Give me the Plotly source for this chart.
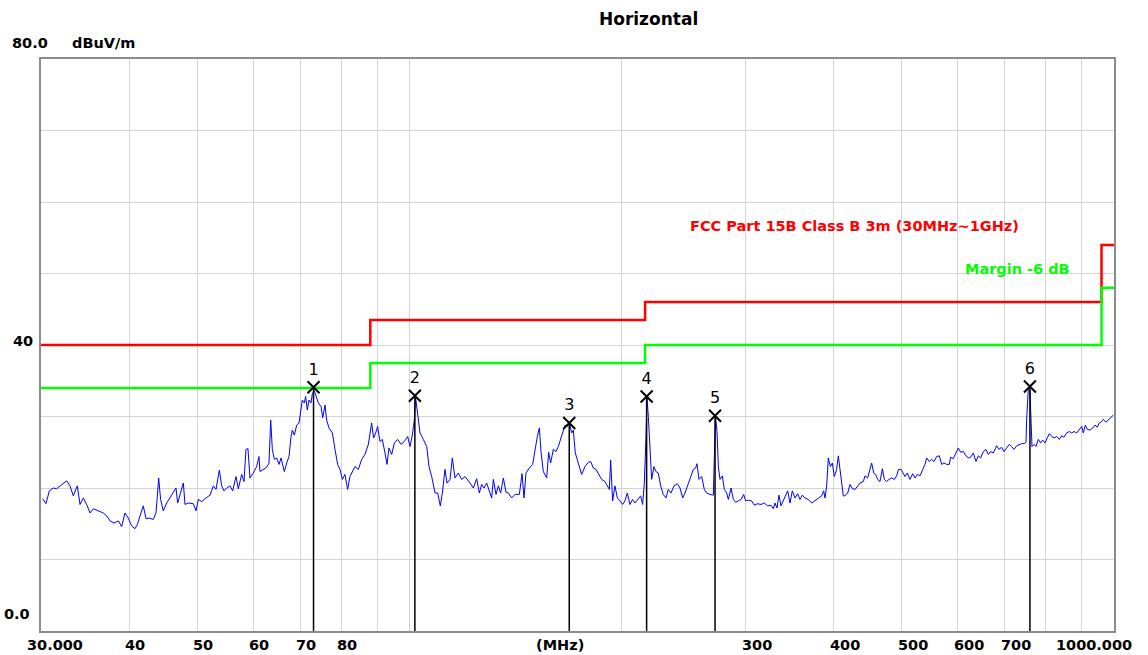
"""EMI scan plot, horizontal polarisation, 30 MHz - 1 GHz."""

import math

import plotly.graph_objects as go

# measured trace (MHz, dBuV/m)
scan_freq = [
    30.16, 30.49, 30.83, 31.23, 31.57, 31.92, 32.27, 32.62, 32.98, 33.34, 33.78, 34.08,
    34.45, 34.90, 35.21, 35.59, 36.18, 36.78, 37.18, 37.59, 38.08, 38.63, 39.05, 39.47,
    39.90, 40.34, 40.79, 41.10, 41.46, 41.91, 42.28, 42.74, 43.30, 43.68, 43.88, 44.07,
    44.35, 44.74, 45.24, 45.73, 46.23, 46.63, 46.89, 47.25, 47.77, 48.03, 48.55, 49.36,
    49.79, 50.17, 50.72, 51.27, 52.12, 52.69, 53.15, 53.73, 54.14, 54.56, 55.03, 55.63,
    56.12, 56.74, 57.17, 57.80, 58.24, 58.62, 59.00, 59.39, 60.04, 60.70, 61.16,
    61.37, 62.03, 62.72, 63.20, 63.55, 63.89, 64.32, 64.81, 65.30, 65.73, 66.44, 66.97,
    67.47, 67.91, 68.21, 68.65, 69.19, 69.72, 70.17, 70.47, 70.93, 71.24, 71.63, 72.03,
    72.50, 72.82, 73.29, 73.69, 74.26, 74.91, 75.32, 75.90, 76.30, 76.88, 77.74, 78.42,
    79.09, 79.71, 80.32, 81.00, 81.72, 82.34, 82.99, 83.70, 84.63, 85.55, 86.48, 87.44,
    88.39, 88.96, 89.56, 90.14, 90.83, 91.52, 92.33, 92.94, 93.54, 94.37, 95.20, 96.23,
    97.28, 98.36, 99.43, 100.19, 100.95, 101.61, 102.05, 102.74, 103.52, 104.65, 105.81,
    106.62, 107.55, 108.72, 109.68, 110.62, 111.36, 112.34, 113.06, 114.19, 115.06,
    116.07, 117.33, 118.61, 119.93, 121.91, 123.23,
    124.58, 125.67, 126.63, 127.60, 128.72, 129.85, 130.84, 131.56, 132.72, 133.73,
    134.75, 135.94, 137.10, 138.17, 139.68, 141.20, 143.23, 144.49, 145.43, 146.37,
    147.99, 149.60, 150.74, 151.89, 152.91, 153.72, 154.90, 156.62, 157.63, 158.65,
    160.04, 161.45, 162.68, 163.92, 165.02, 166.28, 167.54, 168.63, 169.91, 170.85,
    171.96, 173.67, 175.56, 177.51, 179.45, 180.81, 182.40, 184.00, 185.62, 187.43,
    189.51, 190.96, 192.19, 193.03, 194.28, 195.76, 197.30, 198.98, 200.73, 202.26,
    203.81, 205.59, 207.40, 208.98, 211.31, 212.92, 214.29, 215.48, 216.62, 217.37,
    218.32, 219.48, 220.70, 222.39, 223.82, 225.53, 227.31, 229.25, 231.27, 233.03,
    235.09, 237.43, 240.01, 242.12, 244.25, 246.11, 248.79,
    250.97, 252.89, 254.82, 255.94, 257.65, 259.92, 262.15, 264.15, 267.09, 270.00,
    270.86, 272.05, 273.25, 274.44, 275.96, 278.07, 279.87, 282.00, 283.57, 286.06,
    288.24, 290.44, 292.99, 295.55, 298.14, 300.07, 302.71, 306.00, 308.69, 312.07,
    315.52, 318.95, 322.44, 325.93, 328.49, 330.24, 332.45, 334.61, 336.78, 339.35,
    341.22, 344.22, 346.86, 349.51, 352.58, 355.67, 358.40, 361.13, 364.31, 368.27,
    372.35, 376.40, 380.51, 384.70, 387.19, 388.88, 391.04, 393.12, 395.75, 398.32,
    400.90, 403.96, 406.19, 408.43, 410.60, 412.88, 415.17, 418.82, 422.01, 425.24,
    428.99, 432.75, 436.06, 440.80, 443.24, 447.03, 450.45, 452.95, 455.98, 458.93,
    461.90, 465.43, 469.08, 472.11, 475.72, 479.36, 483.58, 487.83, 491.55, 494.29,
    498.62, 502.42,
    505.1, 508.9, 513.4, 518.0, 521.9, 525.9, 530.5, 535.2, 539.2, 542.2, 546.9, 551.1,
    555.3, 560.2, 565.1, 569.4, 573.7, 578.8, 583.7, 586.3, 591.4, 596.6, 601.2, 605.8,
    611.1, 616.5, 621.2, 625.9, 631.4, 637.0, 641.8, 646.7, 652.4, 658.1, 663.1, 668.2,
    674.1, 681.4, 686.6, 692.6, 697.9, 704.0, 710.2, 715.6, 721.1, 727.4, 733.8, 739.4,
    745.9, 750.1, 751.6, 755.8, 759.8, 762.3, 764.9, 769.9, 774.9, 780.8, 786.9, 792.0,
    798.0, 804.1, 809.5, 815.7, 821.9, 829.1, 836.4, 842.8, 849.2, 856.7, 864.2, 870.8,
    877.5, 885.2, 893.0, 899.8, 904.5, 910.6, 916.5, 924.5, 932.7, 939.8, 947.0, 953.1,
    960.4, 965.7, 974.2, 981.6, 989.1, 997.8,
]
scan_level = [
    18.5, 17.8, 19.6, 20.0, 19.9, 20.3, 20.7, 21.0, 20.3, 18.9, 20.3, 17.7,
    18.6, 17.5, 16.5, 17.1, 16.8, 16.5, 16.1, 15.4, 15.1, 15.4, 14.6, 16.5,
    15.8, 14.7, 14.3, 14.9, 16.1, 17.5, 15.7, 15.8, 15.6, 16.5, 18.9, 21.4,
    18.4, 16.8, 17.9, 18.6, 19.3, 20.0, 17.9, 19.1, 20.7, 17.7, 17.9, 17.8,
    16.8, 18.4, 18.1, 18.5, 19.0, 20.3, 19.8, 22.5, 20.3, 19.6, 20.0, 20.3,
    19.6, 21.6, 19.9, 21.9, 20.9, 25.4, 25.5, 21.4, 22.1, 23.0, 24.4,
    22.3, 22.6, 22.9, 23.5, 29.5, 25.4, 24.0, 24.2, 23.3, 24.2, 22.3, 23.5,
    24.4, 27.2, 28.1, 27.4, 28.8, 29.1, 30.7, 32.3, 31.9, 32.8, 30.9, 32.3,
    31.9, 33.2, 33.6, 33.0, 31.9, 31.4, 29.8, 31.6, 29.5, 28.4, 27.7, 25.4,
    23.3, 22.6, 21.2, 21.9, 19.8, 21.6, 22.3, 23.0, 22.6, 24.0, 24.7, 26.1,
    29.1, 27.0, 27.7, 28.6, 26.5, 26.8, 24.9, 23.3, 25.6, 24.7, 26.3, 26.8,
    26.1, 26.5, 27.2, 25.8, 27.4, 29.5, 32.6, 30.0, 27.7, 26.8, 25.8,
    23.0, 21.6, 19.3, 19.3, 17.5, 19.3, 22.6, 20.7, 21.2, 24.2,
    21.4, 22.1, 21.2, 21.6, 20.7, 20.0,
    21.3, 19.3, 20.5, 20.0, 20.7, 19.6, 18.6, 21.2, 19.1, 20.3,
    19.3, 21.4, 19.4, 19.3, 18.6, 19.1, 19.1, 22.0, 18.6, 22.1,
    22.8, 23.3, 25.6, 27.2, 28.4, 25.1, 22.3, 21.4, 25.0, 23.5,
    25.4, 25.1, 25.8, 26.8, 27.9, 28.8, 28.6, 29.2, 27.7, 28.1,
    24.9, 23.3, 21.9, 23.0, 23.6, 23.7, 22.8, 22.6, 21.9, 21.2,
    20.9, 20.3, 19.8, 23.9, 18.2, 20.3, 18.6, 18.2, 17.7, 18.2,
    19.3, 17.7, 18.4, 17.9, 18.6, 18.9, 17.7, 20.7, 27.0, 32.6,
    30.0, 25.6, 21.2, 23.0, 22.3, 22.1, 20.3, 19.1, 18.6, 19.8,
    19.3, 20.3, 20.6, 20.0, 18.6, 19.3, 20.5,
    21.6, 22.6, 22.8, 23.4, 21.2, 21.6, 19.8, 19.3, 19.1, 19.0,
    24.4, 29.8, 27.9, 23.0, 21.2, 21.7, 19.8, 19.3, 18.4, 20.0,
    18.4, 18.0, 18.2, 18.4, 19.1, 18.2, 18.3, 18.2, 17.6, 17.8,
    17.7, 17.9, 17.5, 17.6, 17.1, 17.9, 17.2, 19.0, 17.5, 18.2,
    18.9, 19.6, 17.9, 19.6, 18.6, 19.2, 18.4, 19.0, 18.6, 18.4,
    17.9, 18.2, 18.6, 18.9, 19.6, 18.6, 20.3, 24.2, 23.0, 23.5,
    21.6, 22.6, 24.5, 22.8, 21.2, 18.9, 18.9, 19.3, 20.5, 19.9,
    19.8, 20.3, 20.7, 20.9, 21.7, 21.4, 22.6, 23.5, 22.1, 21.9,
    21.2, 20.9, 22.7, 21.2, 20.9, 21.2, 21.4, 21.2, 21.7, 22.6,
    22.6, 22.1,
    21.6, 22.1, 21.2, 22.0, 21.4, 21.9, 21.7, 22.6, 23.3, 24.2, 23.7, 24.0,
    23.7, 24.4, 24.5, 23.3, 23.5, 23.3, 23.3, 24.3, 24.1, 24.9, 25.6, 25.0,
    25.1, 24.5, 24.2, 24.3, 24.9, 23.7, 24.5, 24.2, 25.1, 25.4, 24.7, 25.1,
    24.9, 25.9, 25.4, 25.7, 25.1, 25.6, 26.1, 25.8, 25.4, 25.9, 26.1, 26.2,
    26.2, 26.4, 29.5, 33.9, 33.7, 29.5, 25.8, 26.1, 25.8, 26.8, 26.3, 26.7,
    26.3, 27.0, 27.6, 27.2, 27.0, 27.2, 26.8, 27.3, 27.1, 27.7, 27.9, 27.7,
    27.9, 27.7, 28.2, 28.6, 27.7, 28.8, 28.2, 28.1, 28.4, 28.8, 28.5, 29.1,
    29.3, 29.6, 29.2, 29.5, 29.8, 30.2,
]

# FCC Part 15B class B limit and the -6 dB margin line
limit_freq = [30, 88, 216, 960, 1000]
limit_level = [40.0, 43.5, 46.0, 54.0, 54.0]
margin_level = [34.0, 37.5, 40.0, 48.0, 48.0]

# peak markers
marker_labels = ["1", "2", "3", "4", "5", "6"]
marker_freq = [73.1, 101.8, 168.6, 217.1, 271.5, 759.8]
marker_level = [34.1, 32.9, 29.1, 32.8, 30.1, 34.2]

grid_freq = [30, 40, 50, 60, 70, 80, 90, 100, 200, 300, 400, 500, 600, 700, 800, 900, 1000]
label_freq = [30, 40, 50, 60, 70, 80, 300, 400, 500, 600, 700, 1000]
label_text = ["30.000", "40", "50", "60", "70", "80", "300", "400", "500", "600", "700", "1000.000"]
grid_level = [0, 10, 20, 30, 40, 50, 60, 70, 80]

FONT = "DejaVu Sans, Verdana, sans-serif"
bold = dict(family=FONT, size=14.5, color="black", weight="bold")

fig = go.Figure()
fig.add_trace(go.Scatter(x=limit_freq, y=limit_level, mode="lines", line_shape="hv",
                         line=dict(color="#ff0000", width=2.5), hoverinfo="skip"))
fig.add_trace(go.Scatter(x=limit_freq, y=margin_level, mode="lines", line_shape="hv",
                         line=dict(color="#00ff00", width=2.5), hoverinfo="skip"))
fig.add_trace(go.Scatter(x=scan_freq, y=scan_level, mode="lines",
                         line=dict(color="#0000ff", width=1)))
fig.add_trace(
    go.Scatter(
        x=marker_freq,
        y=marker_level,
        mode="markers+text",
        text=marker_labels,
        textposition="top center",
        textfont=dict(family=FONT, size=16, color="black"),
        marker=dict(symbol="x-thin", size=12, line=dict(color="black", width=2)),
        error_y=dict(type="data", symmetric=False, array=[0] * len(marker_level),
                     arrayminus=marker_level, width=0, thickness=1.5, color="black"),
    )
)

annotations = [
    dict(text="Horizontal", xref="paper", yref="paper", x=0.566, y=1.07,
         xanchor="center", yanchor="middle", showarrow=False,
         font=dict(family=FONT, size=17, color="black", weight="bold")),
    dict(text="80.0", xref="paper", yref="paper", x=-0.029, y=1.028,
         xanchor="left", yanchor="middle", showarrow=False, font=bold),
    dict(text="dBuV/m", xref="paper", yref="paper", x=0.027, y=1.028,
         xanchor="left", yanchor="middle", showarrow=False, font=bold),
    dict(text="40", xref="paper", yref="y", x=-0.006, y=40, yshift=4,
         xanchor="right", yanchor="middle", showarrow=False, font=bold),
    dict(text="0.0", xref="paper", yref="y", x=-0.008, y=2.4,
         xanchor="right", yanchor="middle", showarrow=False, font=bold),
    dict(text="(MHz)", xref="paper", yref="paper", x=0.484, y=-0.0245,
         xanchor="center", yanchor="middle", showarrow=False, font=bold),
    dict(text="FCC Part 15B Class B 3m (30MHz~1GHz)", xref="paper", yref="y",
         x=0.603, y=56.6, xanchor="left", yanchor="middle", showarrow=False,
         font=dict(family=FONT, size=14.5, color="#ff0000", weight="bold")),
    dict(text="Margin -6 dB", xref="paper", yref="y", x=0.859, y=50.6,
         xanchor="left", yanchor="middle", showarrow=False,
         font=dict(family=FONT, size=14.5, color="#00ff00", weight="bold")),
]

# frequency labels start just left of their grid line, the end ones are pulled inwards
for i, (freq, text) in enumerate(zip(label_freq, label_text)):
    anchor, shift = "left", -6
    if i == 0:
        shift = -16
    elif i == len(label_freq) - 1:
        anchor, shift = "right", 20
    annotations.append(
        dict(text=text, xref="x", yref="paper", x=math.log10(freq), y=-0.0245,
             xanchor=anchor, yanchor="middle", xshift=shift, showarrow=False, font=bold)
    )

axis_style = dict(
    showticklabels=False,
    ticks="",
    showgrid=True,
    gridcolor="#d4d4d4",
    gridwidth=1,
    showline=True,
    linecolor="#8c8c8c",
    linewidth=2,
    mirror=True,
    zeroline=False,
)

fig.update_layout(
    width=1148,
    height=655,
    autosize=False,
    margin=dict(l=41, r=34, t=59, b=24),
    paper_bgcolor="white",
    plot_bgcolor="white",
    showlegend=False,
    annotations=annotations,
    xaxis=dict(type="log", range=[math.log10(30), 3.0], tickvals=grid_freq, **axis_style),
    yaxis=dict(range=[0, 80], tickvals=grid_level, **axis_style),
)

# drop the default body margin so the figure sits at the window's top-left corner
fig.write_html(
    "out.html",
    config={"displayModeBar": False},
    post_script="document.body.style.margin = '0';",
)
